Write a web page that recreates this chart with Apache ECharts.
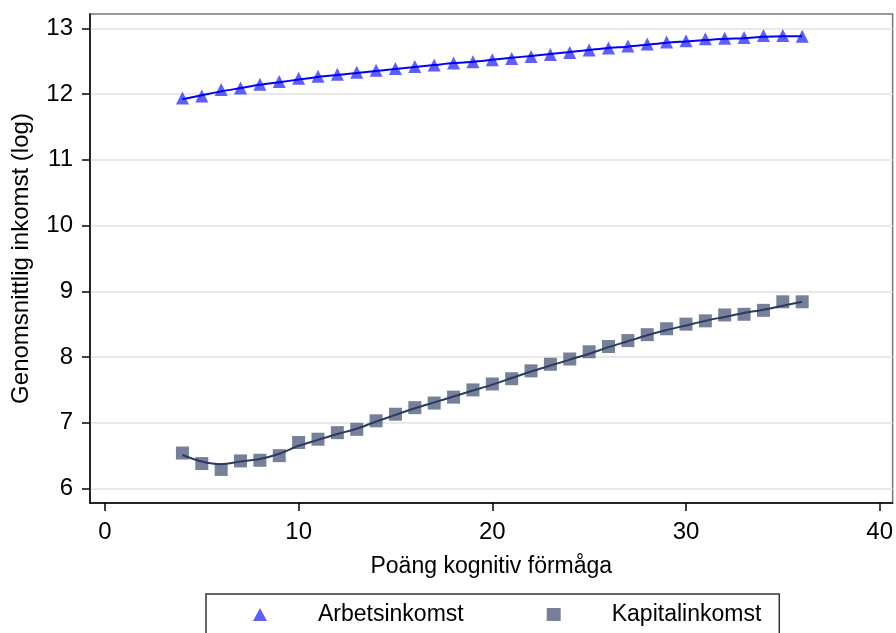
<!DOCTYPE html>
<html>
<head>
<meta charset="utf-8">
<script src="https://cdn.jsdelivr.net/npm/echarts@6/dist/echarts.min.js"></script>
<style>
  html, body { margin: 0; padding: 0; background: #fff; }
  #chart { width: 896px; height: 633px; }
</style>
</head>
<body>
<div id="chart"></div>
<script>
// poäng (x) för varje observation
const scores = [4, 5, 6, 7, 8, 9, 10, 11, 12, 13, 14, 15, 16, 17, 18, 19, 20,
  21, 22, 23, 24, 25, 26, 27, 28, 29, 30, 31, 32, 33, 34, 35, 36]

// Arbetsinkomst - medelvärden och anpassad kurva
const arbets = [11.94, 11.97, 12.07, 12.09, 12.15, 12.19, 12.24, 12.27, 12.30, 12.33, 12.36,
  12.39, 12.42, 12.44, 12.47, 12.49, 12.52, 12.54, 12.57, 12.60, 12.63, 12.67,
  12.70, 12.73, 12.76, 12.79, 12.81, 12.84, 12.85, 12.86, 12.89, 12.89, 12.88]
const arbetsFit = [11.92, 11.98, 12.04, 12.09, 12.14, 12.18, 12.22, 12.26, 12.29, 12.32, 12.35,
  12.38, 12.41, 12.44, 12.47, 12.49, 12.52, 12.55, 12.58, 12.61, 12.64, 12.67,
  12.70, 12.72, 12.75, 12.78, 12.80, 12.82, 12.84, 12.85, 12.87, 12.88, 12.88]

// Kapitalinkomst - medelvärden och anpassad kurva
const kapital = [6.54, 6.38, 6.29, 6.42, 6.43, 6.50, 6.70, 6.75, 6.85, 6.90, 7.03,
  7.13, 7.23, 7.30, 7.39, 7.50, 7.59, 7.67, 7.79, 7.89, 7.97, 8.08,
  8.16, 8.25, 8.34, 8.43, 8.50, 8.55, 8.64, 8.65, 8.71, 8.84, 8.84]
const kapitalFit = [6.51, 6.41, 6.37, 6.41, 6.45, 6.53, 6.65, 6.74, 6.83, 6.91, 7.02,
  7.12, 7.22, 7.31, 7.40, 7.49, 7.58, 7.68, 7.78, 7.87, 7.96, 8.05,
  8.15, 8.24, 8.33, 8.41, 8.48, 8.55, 8.61, 8.67, 8.72, 8.78, 8.84]

const xTicks = [0, 10, 20, 30, 40]
const yTicks = [6, 7, 8, 9, 10, 11, 12, 13]

const pairs = (ys) => scores.map((x, i) => [x, ys[i]])

const chart = echarts.init(document.getElementById('chart'))

const font = 'Arial, "Liberation Sans", Helvetica, sans-serif'

const option = {
  animation: false,
  textStyle: { fontFamily: font },
  grid: {
    left: 90,
    right: 1,
    top: 14,
    bottom: 130,
    show: true,
    borderColor: '#777',
    borderWidth: 1.5
  },
  xAxis: {
    type: 'value',
    min: -0.772,
    max: 40.67,
    name: 'Poäng kognitiv förmåga',
    nameLocation: 'middle',
    nameGap: 52,
    nameTextStyle: { fontSize: 23, color: '#000', fontFamily: font },
    axisLine: { show: true, onZero: false, lineStyle: { color: '#000', width: 1.5 } },
    axisTick: { show: true, length: 8, customValues: xTicks, lineStyle: { color: '#000', width: 1.5 } },
    axisLabel: { customValues: xTicks, fontSize: 24, color: '#000', margin: 17, fontFamily: font },
    splitLine: { show: false }
  },
  yAxis: {
    type: 'value',
    min: 5.78,
    max: 13.217,
    name: 'Genomsnittlig inkomst (log)',
    nameLocation: 'middle',
    nameGap: 57,
    nameTextStyle: { fontSize: 24, color: '#000', fontFamily: font },
    axisLine: { show: true, onZero: false, lineStyle: { color: '#000', width: 1.5 } },
    axisTick: { show: true, length: 8, customValues: yTicks, lineStyle: { color: '#000', width: 1.5 } },
    axisLabel: { customValues: yTicks, fontSize: 24, color: '#000', margin: 17, fontFamily: font },
    splitLine: { show: true, lineStyle: { color: '#e2e2e2', width: 1.5 } }
  },
  legend: {
    left: 206,
    top: 594,
    data: ['Arbetsinkomst', 'Kapitalinkomst'],
    orient: 'horizontal',
    borderColor: '#333',
    borderWidth: 1.5,
    padding: [9, 18, 30, 47],
    itemWidth: 14,
    itemHeight: 13,
    itemGap: 83,
    textStyle: {
      fontSize: 23,
      color: '#000',
      fontFamily: font,
      rich: { t: { fontSize: 23, padding: [0, 0, 0, 46], fontFamily: font } }
    },
    formatter: (name) => '{t|' + name + '}'
  },
  series: [
    {
      name: 'Arbetsinkomst',
      type: 'scatter',
      symbol: 'triangle',
      symbolSize: 13,
      itemStyle: { color: '#3636ff' },
      data: pairs(arbets),
      z: 3
    },
    {
      name: 'arbetsFit',
      type: 'line',
      showSymbol: false,
      smooth: 0.3,
      lineStyle: { color: '#0000ff', width: 2 },
      data: pairs(arbetsFit),
      z: 4
    },
    {
      name: 'Kapitalinkomst',
      type: 'scatter',
      symbol: 'rect',
      symbolSize: 13,
      itemStyle: { color: '#55607f' },
      data: pairs(kapital),
      z: 3
    },
    {
      name: 'kapitalFit',
      type: 'line',
      showSymbol: false,
      smooth: 0.3,
      lineStyle: { color: '#2b3a60', width: 2 },
      data: pairs(kapitalFit),
      z: 4
    }
  ]
}

chart.setOption(option)

window.addEventListener('resize', () => chart.resize())
</script>
</body>
</html>
